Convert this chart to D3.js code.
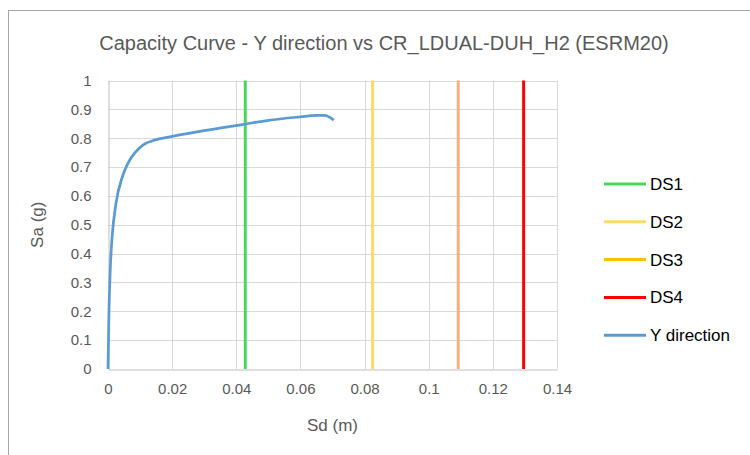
<!DOCTYPE html>
<html lang="en">
<head>
<meta charset="UTF-8">
<script src="https://cdnjs.cloudflare.com/ajax/libs/d3/7.9.0/d3.min.js"></script>
<title>Capacity Curve</title>
<style>
    body { margin: 0; background: white; font-family: "Liberation Sans", Arial, sans-serif; }
    svg { display: block; }
</style>
</head>
<body>
<div id="chart"></div>
<script>
    // capacity curve, Y direction
    const sd = [0, 0.0003, 0.0007, 0.0013, 0.0025, 0.0045, 0.0062, 0.0083, 0.011, 0.0147, 0.02, 0.03, 0.0428, 0.05, 0.06, 0.065, 0.0675, 0.0704];
    const sa = [0, 0.2, 0.344, 0.46, 0.575, 0.667, 0.713, 0.748, 0.777, 0.794, 0.806, 0.826, 0.849, 0.862, 0.874, 0.879, 0.879, 0.863];

    // damage state thresholds (Sd, m)
    const dsNames = ["DS1", "DS2", "DS3", "DS4"];
    const dsValues = [0.0428, 0.0825, 0.1092, 0.1296];
    const dsColors = ["#47D859", "#FFD966", "#F4B183", "#FF0000"];
    const dsLegendColors = ["#47D859", "#FFD966", "#FFC000", "#FF0000"];

    const xTicks = [0, 0.02, 0.04, 0.06, 0.08, 0.1, 0.12, 0.14];
    const yTicks = [0, 0.1, 0.2, 0.3, 0.4, 0.5, 0.6, 0.7, 0.8, 0.9, 1];

    const width = 750, height = 455;
    const margin = { top: 81, right: 195, bottom: 86, left: 108 };
    const textColor = "#595959";

    const svg = d3.select("#chart").append("svg")
        .attr("width", width)
        .attr("height", height);

    // chart frame
    svg.append("rect")
        .attr("x", 8.5).attr("y", 10.5)
        .attr("width", 800).attr("height", 500)
        .attr("fill", "white")
        .attr("stroke", "#A6A6A6");

    const x = d3.scaleLinear().domain([0, 0.14]).range([margin.left, width - margin.right + 2]);
    const y = d3.scaleLinear().domain([0, 1]).range([height - margin.bottom, margin.top - 0.5]);

    // gridlines
    svg.append("g").selectAll("line").data(yTicks.slice(1)).enter().append("line")
        .attr("x1", x(0)).attr("x2", x(0.14))
        .attr("y1", d => Math.round(y(d)) + 0.5).attr("y2", d => Math.round(y(d)) + 0.5)
        .attr("stroke", "#D9D9D9");
    svg.append("g").selectAll("line").data(xTicks.slice(1)).enter().append("line")
        .attr("x1", d => Math.round(x(d)) + 0.5).attr("x2", d => Math.round(x(d)) + 0.5)
        .attr("y1", y(0)).attr("y2", y(1))
        .attr("stroke", "#D9D9D9");

    // axes
    const xAxis = svg.append("g")
        .attr("transform", `translate(0,${Math.round(y(0)) + 0.5})`)
        .call(d3.axisBottom(x).tickValues(xTicks).tickSize(0).tickPadding(14).tickFormat(d => d3.format("~g")(d)));
    xAxis.select(".domain").attr("stroke", "#BFBFBF");
    const yAxis = svg.append("g")
        .attr("transform", `translate(${Math.round(x(0)) + 0.5},0)`)
        .call(d3.axisLeft(y).tickValues(yTicks).tickSize(0).tickPadding(17).tickFormat(d => d3.format("~g")(d)));
    yAxis.select(".domain").attr("stroke", "#BFBFBF");
    svg.selectAll(".tick text")
        .attr("fill", textColor)
        .style("font-size", "15px")
        .style("font-family", "'Liberation Sans', Arial, sans-serif");

    // damage state lines
    svg.append("g").selectAll("line").data(dsValues).enter().append("line")
        .attr("x1", d => x(d)).attr("x2", d => x(d))
        .attr("y1", y(0)).attr("y2", y(1))
        .attr("stroke", (d, i) => dsColors[i])
        .attr("stroke-width", 3);

    // capacity curve
    const line = d3.line()
        .x((d, i) => x(sd[i]))
        .y(d => y(d))
        .curve(d3.curveMonotoneX);
    svg.append("path")
        .datum(sa)
        .attr("d", line)
        .attr("fill", "none")
        .attr("stroke", "#5B9BD5")
        .attr("stroke-width", 2.75)
        .attr("stroke-linejoin", "round");

    // title and axis labels
    svg.append("text")
        .attr("x", 384).attr("y", 50)
        .attr("text-anchor", "middle")
        .attr("fill", textColor)
        .style("font-size", "20px")
        .text("Capacity Curve - Y direction vs CR_LDUAL-DUH_H2 (ESRM20)");
    svg.append("text")
        .attr("x", x(0.07)).attr("y", 431)
        .attr("text-anchor", "middle")
        .attr("fill", textColor)
        .style("font-size", "17px")
        .text("Sd (m)");
    svg.append("text")
        .attr("transform", `translate(43,${y(0.5)}) rotate(-90)`)
        .attr("text-anchor", "middle")
        .attr("fill", textColor)
        .style("font-size", "17px")
        .text("Sa (g)");

    // legend
    const legendItems = dsNames.map((n, i) => ({ name: n, color: dsLegendColors[i] }))
        .concat([{ name: "Y direction", color: "#5B9BD5" }]);
    const legend = svg.append("g").selectAll("g").data(legendItems).enter().append("g")
        .attr("transform", (d, i) => `translate(604,${184 + i * 37.8})`);
    legend.append("line")
        .attr("x1", 0).attr("x2", 42)
        .attr("stroke", d => d.color)
        .attr("stroke-width", 3);
    legend.append("text")
        .attr("x", 46).attr("y", 6)
        .attr("fill", "#000")
        .style("font-size", "17px")
        .text(d => d.name);
</script>
</body>
</html>
